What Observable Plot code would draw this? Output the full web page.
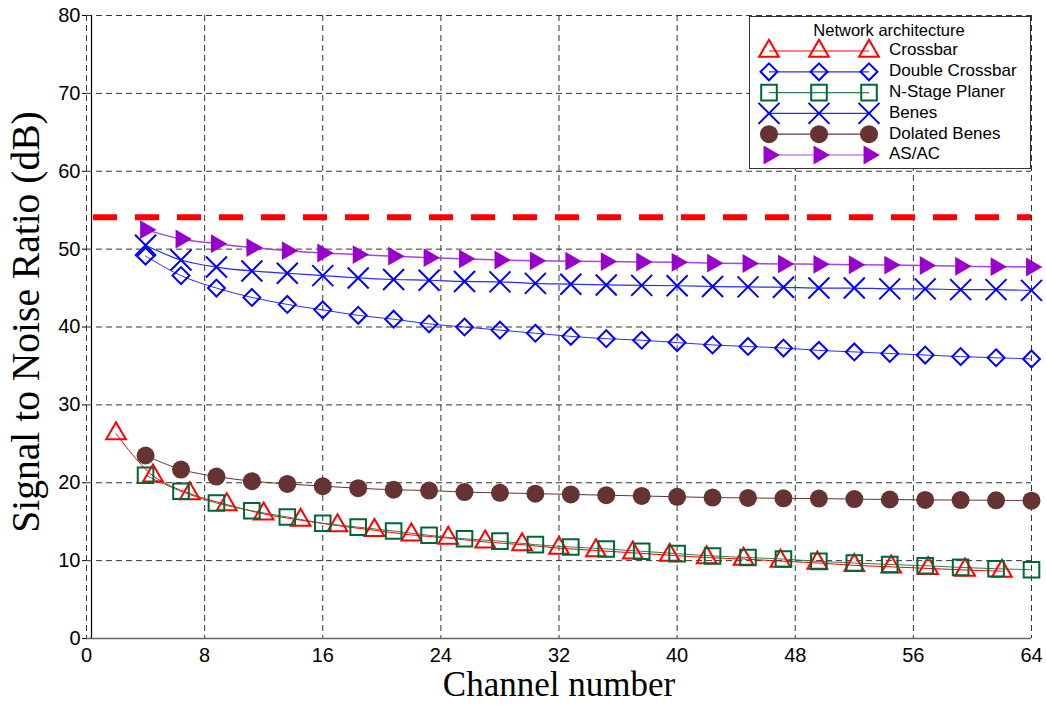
<!DOCTYPE html>
<html>
<head>
<meta charset="utf-8">
<script src="https://cdn.jsdelivr.net/npm/d3@7"></script>
<script src="https://cdn.jsdelivr.net/npm/@observablehq/plot@0.6"></script>
<style>
  html, body { margin: 0; padding: 0; background: #fff; }
  #wrap { position: relative; width: 1046px; height: 705px; }
  #legend { position: absolute; left: 749px; top: 16px; }
</style>
</head>
<body>
<div id="wrap"><div id="chart"></div><svg id="legend" width="282" height="153"></svg></div>
<script>
// ---- data ----
const xTicks = [0, 8, 16, 24, 32, 40, 48, 56, 64];
const yTicks = [0, 10, 20, 30, 40, 50, 60, 70, 80];

const channelsCrossbar = [2, 4.5, 7, 9.5, 12, 14.5, 17, 19.5, 22, 24.5, 27, 29.5, 32, 34.5, 37, 39.5, 42, 44.5, 47, 49.5, 52, 54.5, 57, 59.5, 62];
const channels = [4, 6.4, 8.8, 11.2, 13.6, 16, 18.4, 20.8, 23.2, 25.6, 28, 30.4, 32.8, 35.2, 37.6, 40, 42.4, 44.8, 47.2, 49.6, 52, 54.4, 56.8, 59.2, 61.6, 64];

const crossbar = [26.3, 20.9, 18.6, 17.2, 16.0, 15.2, 14.5, 13.9, 13.3, 12.9, 12.4, 12.05, 11.6, 11.3, 11.0, 10.7, 10.4, 10.2, 9.95, 9.7, 9.4, 9.2, 9.0, 8.8, 8.65];
const doubleCrossbar = [49.1, 46.6, 45.0, 43.8, 42.9, 42.2, 41.5, 41.0, 40.4, 40.0, 39.6, 39.2, 38.8, 38.5, 38.3, 38.0, 37.7, 37.5, 37.3, 37.0, 36.8, 36.6, 36.4, 36.2, 36.05, 35.9];
const nStagePlaner = [20.96, 18.9, 17.4, 16.4, 15.6, 14.8, 14.3, 13.8, 13.25, 12.8, 12.5, 12.05, 11.75, 11.5, 11.2, 10.9, 10.6, 10.4, 10.2, 9.9, 9.7, 9.5, 9.35, 9.13, 8.96, 8.83];
const benes = [50.5, 48.6, 47.7, 47.2, 46.9, 46.6, 46.3, 46.1, 46.0, 45.85, 45.8, 45.6, 45.5, 45.4, 45.35, 45.3, 45.2, 45.15, 45.1, 45.0, 45.0, 44.9, 44.9, 44.8, 44.8, 44.7];
const dolatedBenes = [23.5, 21.7, 20.8, 20.2, 19.85, 19.55, 19.3, 19.1, 19.0, 18.8, 18.7, 18.6, 18.5, 18.4, 18.3, 18.2, 18.1, 18.05, 18.0, 17.97, 17.9, 17.85, 17.8, 17.78, 17.75, 17.7];
const asac = [52.5, 51.3, 50.7, 50.2, 49.8, 49.5, 49.3, 49.1, 48.9, 48.75, 48.6, 48.5, 48.45, 48.4, 48.35, 48.3, 48.2, 48.15, 48.1, 48.05, 48.0, 47.95, 47.9, 47.8, 47.75, 47.7];
const threshold = [54.1];

const seriesNames = ["Crossbar", "Double Crossbar", "N-Stage Planer", "Benes", "Dolated Benes", "AS/AC"];
const legendTitle = "Network architecture";
const xLabel = "Channel number";
const yLabel = "Signal to Noise Ratio (dB)";

// ---- styles ----
const styles = [
  {x: channelsCrossbar, y: crossbar, symbol: "triangle", r: 7.3, stroke: "#ff0000", fill: "none", sw: 2, line: "#ff0000", lw: 1, rotate: 0},
  {x: channels, y: doubleCrossbar, symbol: "diamond2", r: 7.6, stroke: "#0000ff", fill: "none", sw: 2, line: "#2a2aff", lw: 1, rotate: 0},
  {x: channels, y: nStagePlaner, symbol: "square", r: 8.8, stroke: "#006633", fill: "none", sw: 2, line: "#2e8050", lw: 1, rotate: 0},
  {x: channels, y: benes, symbol: "times", r: 9.6, stroke: "#0000ff", fill: "none", sw: 2, line: "#2a2aff", lw: 1.2, rotate: 0},
  {x: channels, y: dolatedBenes, symbol: "circle", r: 9, stroke: "none", fill: "#663333", sw: 0, line: "#663333", lw: 1, rotate: 0},
  {x: channels, y: asac, symbol: "triangle", r: 7, stroke: "none", fill: "#9900cc", sw: 0, line: "#a844dd", lw: 1.5, rotate: 90}
];

const tables = styles.map((s, i) => s.x.map((x, j) => ({x, y: s.y[j], name: seriesNames[i]})));

const marks = [
  Plot.ruleX(xTicks, {stroke: "#333", strokeWidth: 1, strokeDasharray: "6,4"}),
  Plot.ruleY(yTicks, {stroke: "#333", strokeWidth: 1, strokeDasharray: "6,4"}),
  Plot.ruleY([0], {stroke: "#666", strokeWidth: 1.6}),
  Plot.ruleX([0], {stroke: "#000", strokeWidth: 1.2, dx: 5}),
  Plot.ruleY(threshold, {stroke: "#ff0000", strokeWidth: 6, strokeDasharray: "24,18", strokeDashoffset: 35})
];
styles.forEach((s, i) => {
  marks.push(Plot.line(tables[i], {x: "x", y: "y", stroke: s.line, strokeWidth: s.lw, curve: "catmull-rom"}));
});
styles.forEach((s, i) => {
  marks.push(Plot.dot(tables[i], {x: "x", y: "y", symbol: s.symbol, r: s.r, stroke: s.stroke, fill: s.fill, strokeWidth: s.sw, rotate: s.rotate}));
});
marks.push(
  Plot.axisX({ticks: xTicks, tickSize: 0, tickPadding: 9, label: null, fontSize: 20}),
  Plot.axisY({ticks: yTicks, tickSize: 4, tickPadding: 2, label: null, fontSize: 20}),
  Plot.text([xLabel], {frameAnchor: "bottom", lineAnchor: "middle", textAnchor: "middle", dy: 46.2, fontSize: 35, fontFamily: "Liberation Serif", fill: "#000"}),
  Plot.text([yLabel], {frameAnchor: "left", lineAnchor: "middle", textAnchor: "middle", rotate: -90, dx: -60, dy: -5, fontSize: 39.5, fontFamily: "Liberation Serif", fill: "#000"})
);

const chart = Plot.plot({
  width: 1046,
  height: 705,
  marginLeft: 86,
  marginRight: 15,
  marginTop: 15,
  marginBottom: 67,
  x: {domain: [0, 64]},
  y: {domain: [0, 80]},
  style: {fontFamily: "Liberation Sans, Arial, sans-serif", fontSize: "20px", color: "#000", background: "#fff"},
  marks
});
document.getElementById("chart").appendChild(chart);

// ---- legend (overlay) ----
const lg = d3.select("#legend");
lg.append("rect").attr("x", 0.5).attr("y", 0.5).attr("width", 281).attr("height", 152)
  .attr("fill", "#fff").attr("stroke", "#333").attr("stroke-width", 1);
lg.append("text").attr("x", 140).attr("y", 16).attr("text-anchor", "middle").attr("dominant-baseline", "middle")
  .attr("font-family", "Liberation Sans, Arial, sans-serif").attr("font-size", 16.5).text(legendTitle);
const symMap = {triangle: d3.symbolTriangle, diamond2: d3.symbolDiamond2, square: d3.symbolSquare, times: d3.symbolTimes, circle: d3.symbolCircle};
styles.forEach((s, i) => {
  const cy = 35 + i * 20.8;
  const g = lg.append("g");
  g.append("line").attr("x1", 20).attr("x2", 120).attr("y1", cy).attr("y2", cy).attr("stroke", s.line).attr("stroke-width", 1.2);
  [20, 70, 120].forEach(cx => {
    g.append("path")
      .attr("d", d3.symbol(symMap[s.symbol], Math.PI * s.r * s.r)())
      .attr("transform", `translate(${cx},${cy}) rotate(${s.rotate})`)
      .attr("fill", s.fill).attr("stroke", s.stroke).attr("stroke-width", s.sw);
  });
  g.append("text").attr("x", 140).attr("y", cy).attr("dominant-baseline", "middle")
    .attr("font-family", "Liberation Sans, Arial, sans-serif").attr("font-size", 17).text(seriesNames[i]);
});
</script>
</body>
</html>
